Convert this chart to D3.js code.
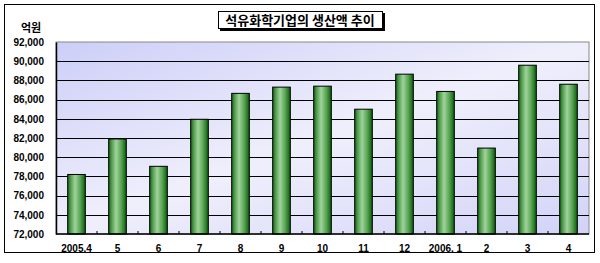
<!DOCTYPE html>
<html>
<head>
<meta charset="utf-8">
<script src="https://cdn.jsdelivr.net/npm/d3@7"></script>
<style>
  body { margin: 0; background: #fff; }
  svg { display: block; font-family: "Liberation Sans", "DejaVu Sans", sans-serif; }
</style>
</head>
<body>
<div id="chart"></div>
<script>
// chart data
const months = ['2005.4', '5', '6', '7', '8', '9', '10', '11', '12', '2006. 1', '2', '3', '4'];
const production = [78200, 81900, 79050, 83950, 86650, 87300, 87400, 85000, 88650, 86850, 80950, 89580, 87600];
const yTicks = [72000, 74000, 76000, 78000, 80000, 82000, 84000, 86000, 88000, 90000, 92000];
const chartTitle = '석유화학기업의 생산액 추이';
const unitLabel = '억원';

const width = 600;
const height = 263;
const margin = { top: 42, right: 11, bottom: 29, left: 56 };

const svg = d3.select('#chart')
    .append('svg')
    .attr('width', width)
    .attr('height', height);

const defs = svg.append('defs');

// plot background gradient
const bg = defs.append('linearGradient')
    .attr('id', 'plotBg')
    .attr('x1', '0').attr('y1', '0')
    .attr('x2', '1').attr('y2', '1');
bg.append('stop').attr('offset', '0%').attr('stop-color', '#cdcef8');
bg.append('stop').attr('offset', '50%').attr('stop-color', '#efeffc');
bg.append('stop').attr('offset', '100%').attr('stop-color', '#d2d2f8');

// cylinder-like bar gradient
const barGrad = defs.append('linearGradient')
    .attr('id', 'barGrad')
    .attr('x1', '0').attr('y1', '0')
    .attr('x2', '1').attr('y2', '0');
barGrad.append('stop').attr('offset', '0%').attr('stop-color', '#166416');
barGrad.append('stop').attr('offset', '18%').attr('stop-color', '#559f52');
barGrad.append('stop').attr('offset', '42%').attr('stop-color', '#a0d39b');
barGrad.append('stop').attr('offset', '72%').attr('stop-color', '#56a352');
barGrad.append('stop').attr('offset', '100%').attr('stop-color', '#0a5c0a');

// outer frame
svg.append('rect')
    .attr('x', 4.5).attr('y', 4.5)
    .attr('width', 590).attr('height', 248)
    .attr('fill', '#fff')
    .attr('stroke', '#000')
    .attr('stroke-width', 1);

const x = d3.scaleBand()
    .domain(months)
    .range([margin.left, width - margin.right])
    .paddingInner(0.57)
    .paddingOuter(0.285);

const y = d3.scaleLinear()
    .domain([72000, 92000])
    .range([height - margin.bottom, margin.top]);

// plot area
svg.append('rect')
    .attr('x', margin.left).attr('y', margin.top)
    .attr('width', width - margin.left - margin.right)
    .attr('height', height - margin.top - margin.bottom)
    .attr('fill', 'url(#plotBg)')
    .attr('stroke', '#888')
    .attr('stroke-width', 1);

// gridlines
svg.append('g')
    .selectAll('line')
    .data(yTicks.slice(1, -1))
    .join('line')
    .attr('x1', margin.left)
    .attr('x2', width - margin.right)
    .attr('y1', (d) => Math.round(y(d)) + 0.5)
    .attr('y2', (d) => Math.round(y(d)) + 0.5)
    .attr('stroke', '#000')
    .attr('stroke-width', 1);

// bars
svg.append('g')
    .selectAll('rect')
    .data(production)
    .join('rect')
    .attr('x', (d, i) => x(months[i]))
    .attr('y', (d) => y(d))
    .attr('width', x.bandwidth())
    .attr('height', (d) => y(72000) - y(d))
    .attr('fill', 'url(#barGrad)')
    .attr('stroke', '#000')
    .attr('stroke-width', 1);

// y axis
const yAxis = svg.append('g')
    .attr('transform', `translate(${margin.left},0)`)
    .call(d3.axisLeft(y).tickValues(yTicks).tickSize(0).tickPadding(12)
        .tickFormat(d3.format(',')));
yAxis.select('.domain').attr('stroke', '#000').attr('stroke-width', 1.5);
yAxis.selectAll('text')
    .attr('font-size', 10)
    .attr('font-weight', 'bold')
    .attr('fill', '#000');

// x axis with small inward ticks at band boundaries
const xAxisG = svg.append('g')
    .attr('transform', `translate(0,${height - margin.bottom})`);
xAxisG.append('line')
    .attr('x1', margin.left).attr('x2', width - margin.right)
    .attr('stroke', '#000').attr('stroke-width', 1.5);
xAxisG.selectAll('.tick-mark')
    .data(months.slice(1))
    .join('line')
    .attr('class', 'tick-mark')
    .attr('x1', (d) => x(d) - x.step() * x.paddingInner() / 2)
    .attr('x2', (d) => x(d) - x.step() * x.paddingInner() / 2)
    .attr('y1', 0).attr('y2', -3)
    .attr('stroke', '#000');
xAxisG.selectAll('text')
    .data(months)
    .join('text')
    .attr('x', (d) => x(d) + x.bandwidth() / 2)
    .attr('y', 18)
    .attr('text-anchor', 'middle')
    .attr('font-size', 10)
    .attr('font-weight', 'bold')
    .text((d) => d);

// unit label
svg.append('text')
    .attr('x', 31).attr('y', 32)
    .attr('text-anchor', 'middle')
    .attr('font-family', '"Noto Sans CJK KR", sans-serif')
    .attr('font-size', 11)
    .attr('font-weight', 'bold')
    .text(unitLabel);

// title box with shadow
const titleG = svg.append('g');
titleG.append('rect')
    .attr('x', 220).attr('y', 13)
    .attr('width', 165).attr('height', 18)
    .attr('fill', '#000');
titleG.append('rect')
    .attr('x', 218.5).attr('y', 11.5)
    .attr('width', 164).attr('height', 17)
    .attr('fill', '#fff')
    .attr('stroke', '#000')
    .attr('stroke-width', 1);
titleG.append('text')
    .attr('x', 300).attr('y', 25)
    .attr('text-anchor', 'middle')
    .attr('font-family', '"Noto Sans CJK KR", sans-serif')
    .attr('font-size', 13)
    .attr('font-weight', 'bold')
    .text(chartTitle);
</script>
</body>
</html>
